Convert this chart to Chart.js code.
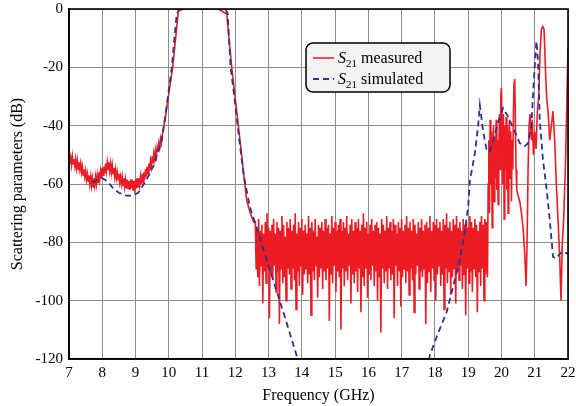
<!DOCTYPE html>
<html>
<head>
<meta charset="utf-8">
<script src="https://cdn.jsdelivr.net/npm/chart.js@4"></script>
<style>
  html, body { margin: 0; padding: 0; background: #fff; }
  #wrap { width: 576px; height: 406px; }
</style>
</head>
<body>
<div id="wrap"><canvas id="s21Chart" width="576" height="406"></canvas></div>
<script>
// measured S21, lower stopband: one reading every 0.025 GHz from 7 GHz (dB)
const lowStart = 7.0;
const lowStep = 0.025;
const lowDb = [
    -50.5, -53, -51, -53.5, -50.5, -53, -51.5, -54, -51.5, -54.5,
    -52, -55, -52.5, -55, -53, -56, -54, -57, -55, -57.5,
    -55.5, -58.5, -56.5, -59, -57, -60, -57.5, -60.5, -58, -61,
    -58, -60.5, -57.5, -60, -57, -59.5, -56, -58.5, -55.5, -58,
    -54.5, -57, -54, -56.5, -53, -55.5, -52.5, -55, -52.5, -55.5,
    -53, -56, -53.5, -56.5, -54.5, -57.5, -55, -58, -56, -58.5,
    -56.5, -59.5, -57.5, -60, -57.5, -60.5, -58, -61, -58.5, -61.5,
    -58.5, -61.5, -59, -62, -58.5, -61.5, -58.5, -62, -59, -61.5,
    -58.5, -61.5, -58, -61, -58, -60.5, -57.5, -60, -56.5, -59.5,
    -56, -58.5, -55, -57.5, -54, -56.5, -53, -55.5, -52, -54,
    -50.5, -53, -49.5, -51.5, -48.5, -50.5, -47.5, -49, -46, -47.5,
    -44.5, -46, -43.5
];

// measured S21 around the passband (GHz / dB)
const passFreq = [9.90, 10.00, 10.12, 10.20, 10.29, 10.50, 11.00, 11.49, 11.58, 11.66, 11.74,
    11.80, 11.89, 12.00, 12.14, 12.34, 12.45, 12.55];
const passDb = [-37, -29, -19.8, -10.6, -0.4, 0, 0, 0, -0.6, -1.2, -1.6,
    -9, -19.8, -31, -45, -65.5, -70, -73];

// measured noise floor, one reading every 0.025 GHz from 12.6 GHz (dB)
const noiseStart = 12.6;
const noiseStep = 0.025;
const noiseDb = [
    -73, -89, -75, -92, -72, -95, -76, -88, -74, -101, -77, -90, -73, -94, -70, -89, -75, -106, -76, -91,
    -74, -93, -72, -88, -77, -97, -73, -90, -75, -108, -76, -89, -71, -94, -74, -92, -78, -100, -73, -89,
    -75, -91, -72, -96, -76, -89, -74, -93, -70, -103, -77, -90, -73, -95, -75, -88, -72, -98, -76, -91,
    -74, -89, -77, -94, -71, -91, -75, -105, -73, -90, -76, -93, -72, -88, -78, -99, -74, -92, -75, -89,
    -73, -96, -76, -90, -72, -93, -75, -89, -74, -107, -77, -91, -71, -94, -75, -88, -73, -97, -76, -90,
    -74, -92, -72, -110, -76, -89, -73, -95, -75, -90, -71, -93, -77, -88, -74, -101, -72, -91, -76, -94,
    -73, -90, -75, -97, -72, -89, -76, -104, -74, -92, -70, -95, -75, -89, -73, -99, -77, -91, -74, -93,
    -72, -88, -76, -95, -74, -90, -73, -100, -75, -92, -77, -111, -72, -89, -74, -94, -76, -90, -71, -96,
    -75, -89, -73, -93, -76, -91, -72, -106, -74, -88, -77, -95, -73, -90, -75, -102, -72, -92, -76, -89,
    -74, -94, -71, -90, -75, -98, -73, -89, -76, -93, -72, -104, -74, -91, -77, -88, -73, -96, -75, -90,
    -72, -92, -76, -89, -74, -108, -73, -94, -75, -90, -71, -97, -76, -89, -73, -93, -74, -100, -72, -91,
    -75, -88, -73, -95, -76, -91, -72, -103, -74, -89, -70, -94, -75, -90, -73, -98, -76, -92, -72, -89,
    -74, -101, -71, -90, -75, -93, -73, -88, -76, -96, -72, -91, -74, -105, -73, -89, -75, -94, -71, -90,
    -73, -97, -75, -89, -72, -92, -74, -104, -76, -90, -73, -95, -71, -89, -74, -100, -72, -91, -73
];

// measured S21: upper band (GHz / dB)
const highFreq = [19.56, 19.58, 19.60, 19.62, 19.64, 19.66, 19.68, 19.70, 19.72, 19.74, 19.76, 19.78, 19.80,
    19.82, 19.84, 19.86, 19.88, 19.90, 19.92, 19.94, 19.96, 19.98, 20.00, 20.02, 20.04, 20.06, 20.08, 20.10, 20.12,
    20.14, 20.16, 20.18, 20.20, 20.22, 20.24, 20.26, 20.28, 20.30, 20.32, 20.34, 20.36, 20.38, 20.40, 20.42, 20.44,
    20.46, 20.50, 20.55, 20.60, 20.65, 20.70, 20.74, 20.77, 20.80, 20.83, 20.86, 20.90, 20.93, 20.96, 21.00, 21.04,
    21.08, 21.12, 21.16, 21.20, 21.24, 21.28, 21.32, 21.36, 21.40, 21.45, 21.50, 21.55, 21.60, 21.65, 21.70, 21.75,
    21.79, 21.83, 21.87, 21.92, 21.96, 22.00];
const highDb = [-73, -92, -60, -45, -70, -38, -60, -42, -75, -50, -40, -66, -44,
    -58, -38, -62, -45, -67, -50, -36, -55, -30, -27, -45, -60, -36, -72, -40, -55,
    -37, -62, -40, -70, -48, -38, -58, -42, -66, -45, -55, -35, -25, -24, -40, -55,
    -62, -64, -66, -70, -75, -84, -95, -80, -55, -40, -36, -45, -38, -50, -42, -48,
    -35, -30, -15, -7, -6, -7, -20, -31, -35, -45, -40, -35, -45, -60, -72, -85,
    -100, -80, -72, -55, -35, -13];

// simulated S21 (GHz / dB)
const simFreq = [7.70, 7.85, 8.00, 8.15, 8.33, 8.50, 8.73, 8.90, 9.08, 9.25, 9.40, 9.53, 9.65, 9.79, 9.95, 10.09,
    10.17, 10.24, 10.32, 10.50, 11.00, 11.50, 11.70, 11.77, 11.82, 11.86, 12.00, 12.12, 12.25, 12.44, 13.00, 13.50,
    13.90, 14.10, 17.70, 17.85, 18.10, 18.35, 18.55, 18.75, 18.90, 19.00, 19.05, 19.20, 19.30, 19.35, 19.45, 19.55,
    19.65, 19.80, 19.95, 20.05, 20.20, 20.40, 20.55, 20.70, 20.80, 20.90, 20.97, 21.05, 21.10, 21.15, 21.25, 21.35,
    21.45, 21.55, 21.65, 21.75, 21.85, 22.00];
const simDb = [-59.5, -58.5, -58, -59, -61.5, -63, -64, -64, -63, -60, -57, -54, -50, -45, -32, -20,
    -10, -1.5, -0.3, 0, 0, 0, -0.2, -1.5, -12, -20, -33, -45, -57, -68, -88, -106,
    -121, -128, -126, -118.6, -111, -104, -95, -86, -76, -67.8, -59, -49.5, -40, -33, -42, -48,
    -49, -43, -37, -34, -37, -42, -46, -47, -46, -40, -25, -11, -18, -38, -52, -61,
    -72, -85, -85.5, -84, -83, -84];

const xTicks = [7, 8, 9, 10, 11, 12, 13, 14, 15, 16, 17, 18, 19, 20, 21, 22];
const yTicks = [0, -20, -40, -60, -80, -100, -120];

const measured = [];
lowDb.forEach((v, i) => measured.push({ x: lowStart + i * lowStep, y: v }));
passFreq.forEach((f, i) => measured.push({ x: f, y: passDb[i] }));
noiseDb.forEach((v, i) => measured.push({ x: noiseStart + i * noiseStep, y: v }));
highFreq.forEach((f, i) => measured.push({ x: f, y: highDb[i] }));
const simulated = simFreq.map((f, i) => ({ x: f, y: simDb[i] }));

const RED = '#ed1c24';
const BLUE = '#2e3192';
const SERIF = '"Liberation Serif", "DejaVu Serif", serif';

// box round the plot + legend inside it
const framePlugin = {
    id: 'frame',
    afterDatasetsDraw(chart) {
        const { ctx, chartArea: a } = chart;
        ctx.save();
        ctx.strokeStyle = '#000';
        ctx.lineWidth = 1.6;
        ctx.strokeRect(a.left, a.top, a.right - a.left, a.bottom - a.top);

        // legend
        const bx = a.left + 237, by = a.top + 34, bw = 144, bh = 49, r = 7;
        ctx.beginPath();
        ctx.roundRect(bx, by, bw, bh, r);
        ctx.fillStyle = '#f3f3f3';
        ctx.fill();
        ctx.lineWidth = 1.5;
        ctx.strokeStyle = '#000';
        ctx.stroke();

        const rows = [
            { label: 'measured', color: RED, dash: [] },
            { label: 'simulated', color: BLUE, dash: [6, 4] }
        ];
        rows.forEach((row, i) => {
            const ly = by + 15 + i * 21;
            ctx.beginPath();
            ctx.setLineDash(row.dash);
            ctx.strokeStyle = row.color;
            ctx.lineWidth = row.dash.length ? 2 : 1.5;
            ctx.moveTo(bx + 7, ly);
            ctx.lineTo(bx + 28, ly);
            ctx.stroke();
            ctx.setLineDash([]);

            let tx = bx + 32;
            const base = ly + 5;
            ctx.fillStyle = '#000';
            ctx.textBaseline = 'alphabetic';
            ctx.textAlign = 'left';
            ctx.font = 'italic 16px ' + SERIF;
            ctx.fillText('S', tx, base);
            tx += ctx.measureText('S').width;
            ctx.font = '11px ' + SERIF;
            ctx.fillText('21', tx, base + 4);
            tx += ctx.measureText('21').width;
            ctx.font = '16px ' + SERIF;
            ctx.fillText(' ' + row.label, tx, base);
        });
        ctx.restore();
    }
};

const chart = new Chart(document.getElementById('s21Chart').getContext('2d'), {
    type: 'line',
    data: {
        datasets: [
            {
                label: 'S21 measured',
                data: measured,
                borderColor: RED,
                borderWidth: 1.6,
                pointRadius: 0,
                tension: 0,
                fill: false,
                order: 2
            },
            {
                label: 'S21 simulated',
                data: simulated,
                borderColor: BLUE,
                borderWidth: 1.8,
                borderDash: [6, 4],
                pointRadius: 0,
                tension: 0,
                fill: false,
                order: 1
            }
        ]
    },
    options: {
        responsive: false,
        animation: false,
        layout: { padding: { top: 9, right: 8, left: 0, bottom: 0 } },
        plugins: {
            legend: { display: false },
            tooltip: { enabled: false }
        },
        scales: {
            x: {
                type: 'linear',
                min: 7,
                max: 22,
                afterBuildTicks: s => { s.ticks = xTicks.map(v => ({ value: v })); },
                afterFit: s => { s.height = 47; s.paddingLeft = 0; s.paddingRight = 0; },
                grid: { color: '#8c8c8c', lineWidth: 1, drawTicks: false },
                border: { color: '#000', width: 1.6 },
                ticks: { color: '#000', font: { family: SERIF, size: 15 }, padding: 5, maxRotation: 0 },
                title: {
                    display: true,
                    text: 'Frequency (GHz)',
                    color: '#000',
                    font: { family: SERIF, size: 16 },
                    padding: { top: 0, bottom: 1 }
                }
            },
            y: {
                min: -120,
                max: 0,
                afterBuildTicks: s => { s.ticks = yTicks.map(v => ({ value: v })); },
                afterFit: s => { s.width = 69; s.paddingTop = 0; s.paddingBottom = 0; },
                grid: { color: '#8c8c8c', lineWidth: 1, drawTicks: false },
                border: { color: '#000', width: 1.6 },
                ticks: { color: '#000', font: { family: SERIF, size: 15 }, padding: 6 },
                title: {
                    display: true,
                    text: 'Scattering parameters (dB)',
                    color: '#000',
                    font: { family: SERIF, size: 16 },
                    padding: { top: 8, bottom: 0 }
                }
            }
        }
    },
    plugins: [framePlugin]
});
</script>
</body>
</html>
